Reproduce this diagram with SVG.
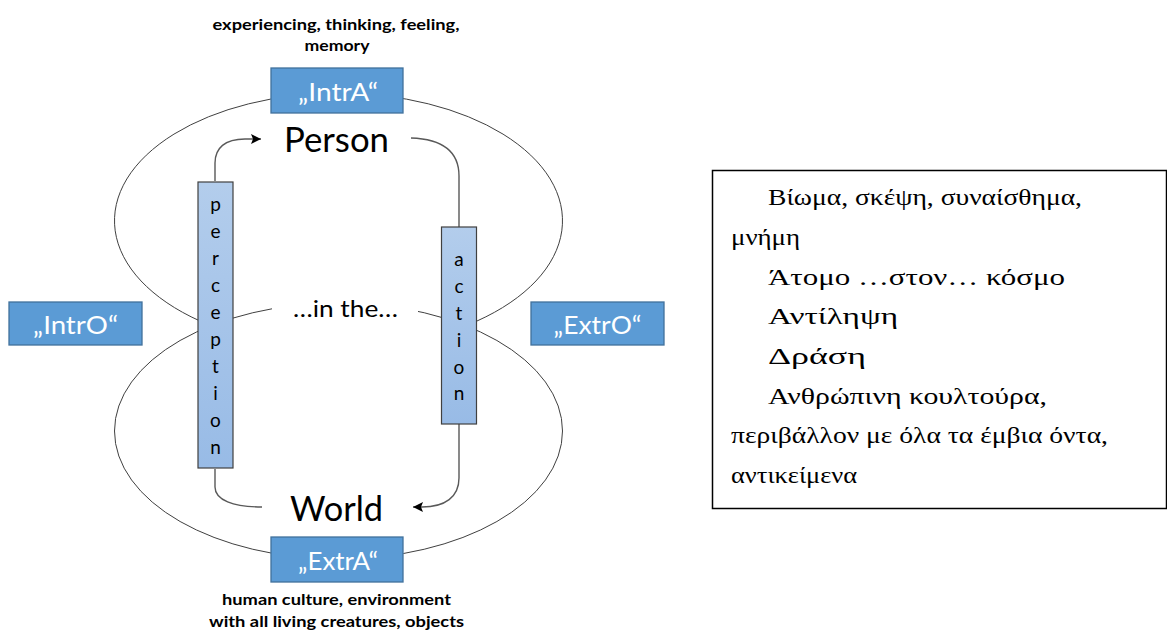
<svg xmlns="http://www.w3.org/2000/svg" width="1167" height="631" viewBox="0 0 1167 631">
<style>
.sans{font-family:Lato,"Open Sans","Liberation Sans",sans-serif}
.cap{font-family:Lato,"Open Sans","Liberation Sans",sans-serif;font-weight:bold;font-size:15.5px;fill:#000;text-anchor:middle}
.lbl{font-family:Lato,"Open Sans","Liberation Sans",sans-serif;font-size:25px;fill:#fff;text-anchor:middle}
.big{font-family:Lato,"Open Sans","Liberation Sans",sans-serif;font-size:34px;fill:#000;text-anchor:middle}
.box{fill:#5b9bd5;stroke:#41719c;stroke-width:1.3}
.bar{fill:url(#barg);stroke:#404040;stroke-width:1.2}
.ltr{font-family:Lato,"Open Sans","Liberation Sans",sans-serif;font-size:19px;fill:#000;text-anchor:middle}
.loop{fill:none;stroke:#404040;stroke-width:1}
.con{fill:none;stroke:#595959;stroke-width:1.4}
.gr{font-family:"Liberation Serif","Noto Serif",serif;font-size:24px;fill:#000}
</style>
<defs>
<linearGradient id="barg" x1="0" y1="0" x2="0" y2="1">
<stop offset="0" stop-color="#b3cdec"/>
<stop offset="1" stop-color="#98bbe6"/>
</linearGradient>
<marker id="arr" markerUnits="userSpaceOnUse" markerWidth="12" markerHeight="10" refX="10" refY="5" orient="auto">
<path d="M0,0 L10,5 L0,10 L2,5 Z" fill="#000"/>
</marker>
</defs>

<g id="loops">
<ellipse class="loop" cx="338.5" cy="431" rx="224" ry="128"/>
<path class="loop" d="M200,321 A224,127.6 0 1 1 477,321"/>
</g>

<g id="connectors">
<path class="con" d="M215,181 V163 C215,148 225,139 245,139 L261,139" marker-end="url(#arr)"/>
<path class="con" d="M411,138 C440,139 459,150 459,176 V227"/>
<path class="con" d="M215,469 V487 C215,500 233,507 262,507"/>
<path class="con" d="M459,424 V478 C459,497 445,507 422,507 L413,507" marker-end="url(#arr)"/>
</g>

<g id="top-caption">
<text class="cap" x="336" y="30" textLength="247" lengthAdjust="spacingAndGlyphs">experiencing, thinking, feeling,</text>
<text class="cap" x="337" y="51" textLength="65" lengthAdjust="spacingAndGlyphs">memory</text>
</g>

<g id="intra">
<rect class="box" x="271" y="68" width="132" height="45"/>
<text class="lbl" x="338" y="101" textLength="80" lengthAdjust="spacingAndGlyphs">„IntrA“</text>
</g>

<g id="person">
<text class="big" x="336.5" y="152" textLength="105" lengthAdjust="spacingAndGlyphs">Person</text>
</g>

<g id="inthe">
<rect x="272" y="288" width="146" height="31" fill="#fff"/>
<text class="sans" x="345.5" y="317" font-size="24" text-anchor="middle" textLength="105" lengthAdjust="spacingAndGlyphs">…in the…</text>
</g>

<g id="intro">
<rect class="box" x="9" y="302" width="133" height="43"/>
<text class="lbl" x="75.5" y="334" textLength="85" lengthAdjust="spacingAndGlyphs">„IntrO“</text>
</g>

<g id="extro">
<rect class="box" x="531" y="302" width="133" height="43"/>
<text class="lbl" x="597.5" y="334" textLength="88" lengthAdjust="spacingAndGlyphs">„ExtrO“</text>
</g>

<g id="perception">
<rect class="bar" x="198" y="182" width="35" height="286"/>
<text class="ltr" x="215.5" y="211">p</text>
<text class="ltr" x="215.5" y="238">e</text>
<text class="ltr" x="215.5" y="265">r</text>
<text class="ltr" x="215.5" y="292">c</text>
<text class="ltr" x="215.5" y="319">e</text>
<text class="ltr" x="215.5" y="346">p</text>
<text class="ltr" x="215.5" y="373">t</text>
<text class="ltr" x="215.5" y="400">i</text>
<text class="ltr" x="215.5" y="427">o</text>
<text class="ltr" x="215.5" y="454">n</text>
</g>

<g id="action">
<rect class="bar" x="441.5" y="227" width="35" height="197"/>
<text class="ltr" x="459" y="266">a</text>
<text class="ltr" x="459" y="293">c</text>
<text class="ltr" x="459" y="320">t</text>
<text class="ltr" x="459" y="347">i</text>
<text class="ltr" x="459" y="374">o</text>
<text class="ltr" x="459" y="400">n</text>
</g>

<g id="world">
<text class="big" x="336.5" y="521" textLength="93" lengthAdjust="spacingAndGlyphs">World</text>
</g>

<g id="extra">
<rect class="box" x="271" y="537" width="132" height="45"/>
<text class="lbl" x="338" y="570" textLength="80" lengthAdjust="spacingAndGlyphs">„ExtrA“</text>
</g>

<g id="bottom-caption">
<text class="cap" x="336.5" y="605" textLength="229" lengthAdjust="spacingAndGlyphs">human culture, environment</text>
<text class="cap" x="336.5" y="627" textLength="255" lengthAdjust="spacingAndGlyphs">with all living creatures, objects</text>
</g>

<g id="greek-box">
<rect x="712.5" y="170.5" width="454" height="338" fill="#fff" stroke="#000" stroke-width="1.5"/>
<text class="gr" x="768" y="205" textLength="314" lengthAdjust="spacingAndGlyphs">Βίωμα, σκέψη, συναίσθημα,</text>
<text class="gr" x="731" y="245" textLength="69" lengthAdjust="spacingAndGlyphs">μνήμη</text>
<text class="gr" x="768" y="285" textLength="297" lengthAdjust="spacingAndGlyphs">Άτομο …στον… κόσμο</text>
<text class="gr" x="768" y="324" textLength="130" lengthAdjust="spacingAndGlyphs">Αντίληψη</text>
<text class="gr" x="768" y="364" textLength="98" lengthAdjust="spacingAndGlyphs">Δράση</text>
<text class="gr" x="768" y="404" textLength="279" lengthAdjust="spacingAndGlyphs">Ανθρώπινη κουλτούρα,</text>
<text class="gr" x="731" y="443" textLength="377" lengthAdjust="spacingAndGlyphs">περιβάλλον με όλα τα έμβια όντα,</text>
<text class="gr" x="731" y="483" textLength="126" lengthAdjust="spacingAndGlyphs">αντικείμενα</text>
</g>
</svg>
